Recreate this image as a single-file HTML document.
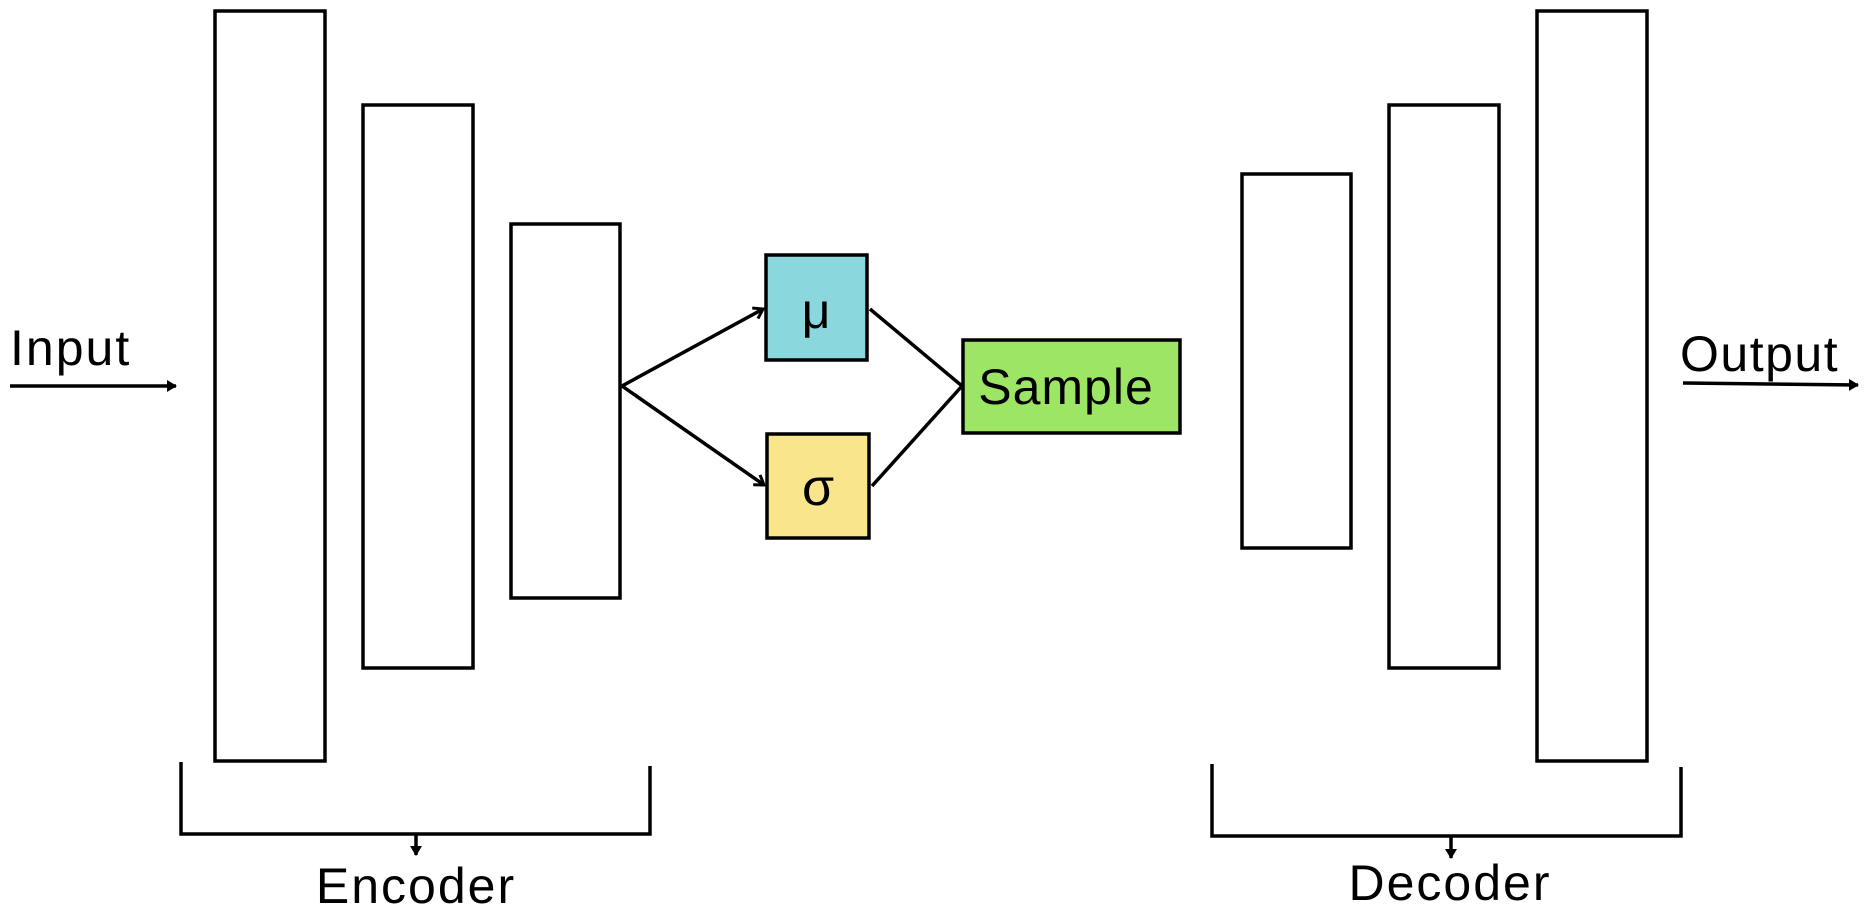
<!DOCTYPE html>
<html><head><meta charset="utf-8"><style>
html,body{margin:0;padding:0;background:#fff;}
svg{display:block;}
text{font-family:"Liberation Sans","DejaVu Sans",sans-serif;fill:#000;}
</style></head><body>
<svg width="1876" height="912" viewBox="0 0 1876 912">
<defs>
<marker id="ah" markerWidth="12" markerHeight="12" refX="9" refY="6" orient="auto" markerUnits="userSpaceOnUse"><path d="M0,0 L10,6 L0,12 Z" fill="#000"/></marker>
<marker id="oa" markerWidth="14" markerHeight="14" refX="11" refY="7" orient="auto" markerUnits="userSpaceOnUse"><path d="M2,1 L11,7 L2,13" fill="none" stroke="#000" stroke-width="3"/></marker>
</defs>
<g fill="#fff" stroke="#000" stroke-width="3.5">
<rect x="215" y="11" width="110" height="750"/>
<rect x="363" y="105" width="110" height="563"/>
<rect x="511" y="224" width="109" height="374"/>
<rect x="1242" y="174" width="109" height="374"/>
<rect x="1389" y="105" width="110" height="563"/>
<rect x="1537" y="11" width="110" height="750"/>
<rect x="766" y="255" width="101" height="105" fill="#8ad8de"/>
<rect x="767" y="434" width="102" height="104" fill="#f8e58c"/>
<rect x="963" y="340" width="217" height="93" fill="#9de564"/>
</g>
<g stroke="#000" stroke-width="3.5" fill="none">
<line x1="10" y1="386" x2="176" y2="386" marker-end="url(#ah)"/>
<line x1="1683" y1="383" x2="1858" y2="385" marker-end="url(#ah)"/>
<line x1="622" y1="386" x2="763" y2="309" marker-end="url(#oa)"/>
<line x1="622" y1="386" x2="764" y2="485" marker-end="url(#oa)"/>
<line x1="870" y1="309" x2="962" y2="386"/>
<line x1="872" y1="486" x2="962" y2="386"/>
<path d="M181,762 V834 H650 V766"/>
<line x1="416" y1="834" x2="416" y2="855" marker-end="url(#ah)"/>
<path d="M1212,764 V836 H1681 V767"/>
<line x1="1451" y1="836" x2="1451" y2="858" marker-end="url(#ah)"/>
</g>
<text x="10" y="365" font-size="50" letter-spacing="2">Input</text>
<text x="1680" y="371" font-size="50" letter-spacing="1.5">Output</text>
<text x="816" y="328" font-size="50" text-anchor="middle">μ</text>
<text x="818" y="505" font-size="52" text-anchor="middle">σ</text>
<text x="1066" y="404" font-size="50" letter-spacing="1" text-anchor="middle">Sample</text>
<text x="416" y="903" font-size="50" letter-spacing="2" text-anchor="middle">Encoder</text>
<text x="1450" y="900" font-size="50" letter-spacing="2" text-anchor="middle">Decoder</text>
</svg>
</body></html>
